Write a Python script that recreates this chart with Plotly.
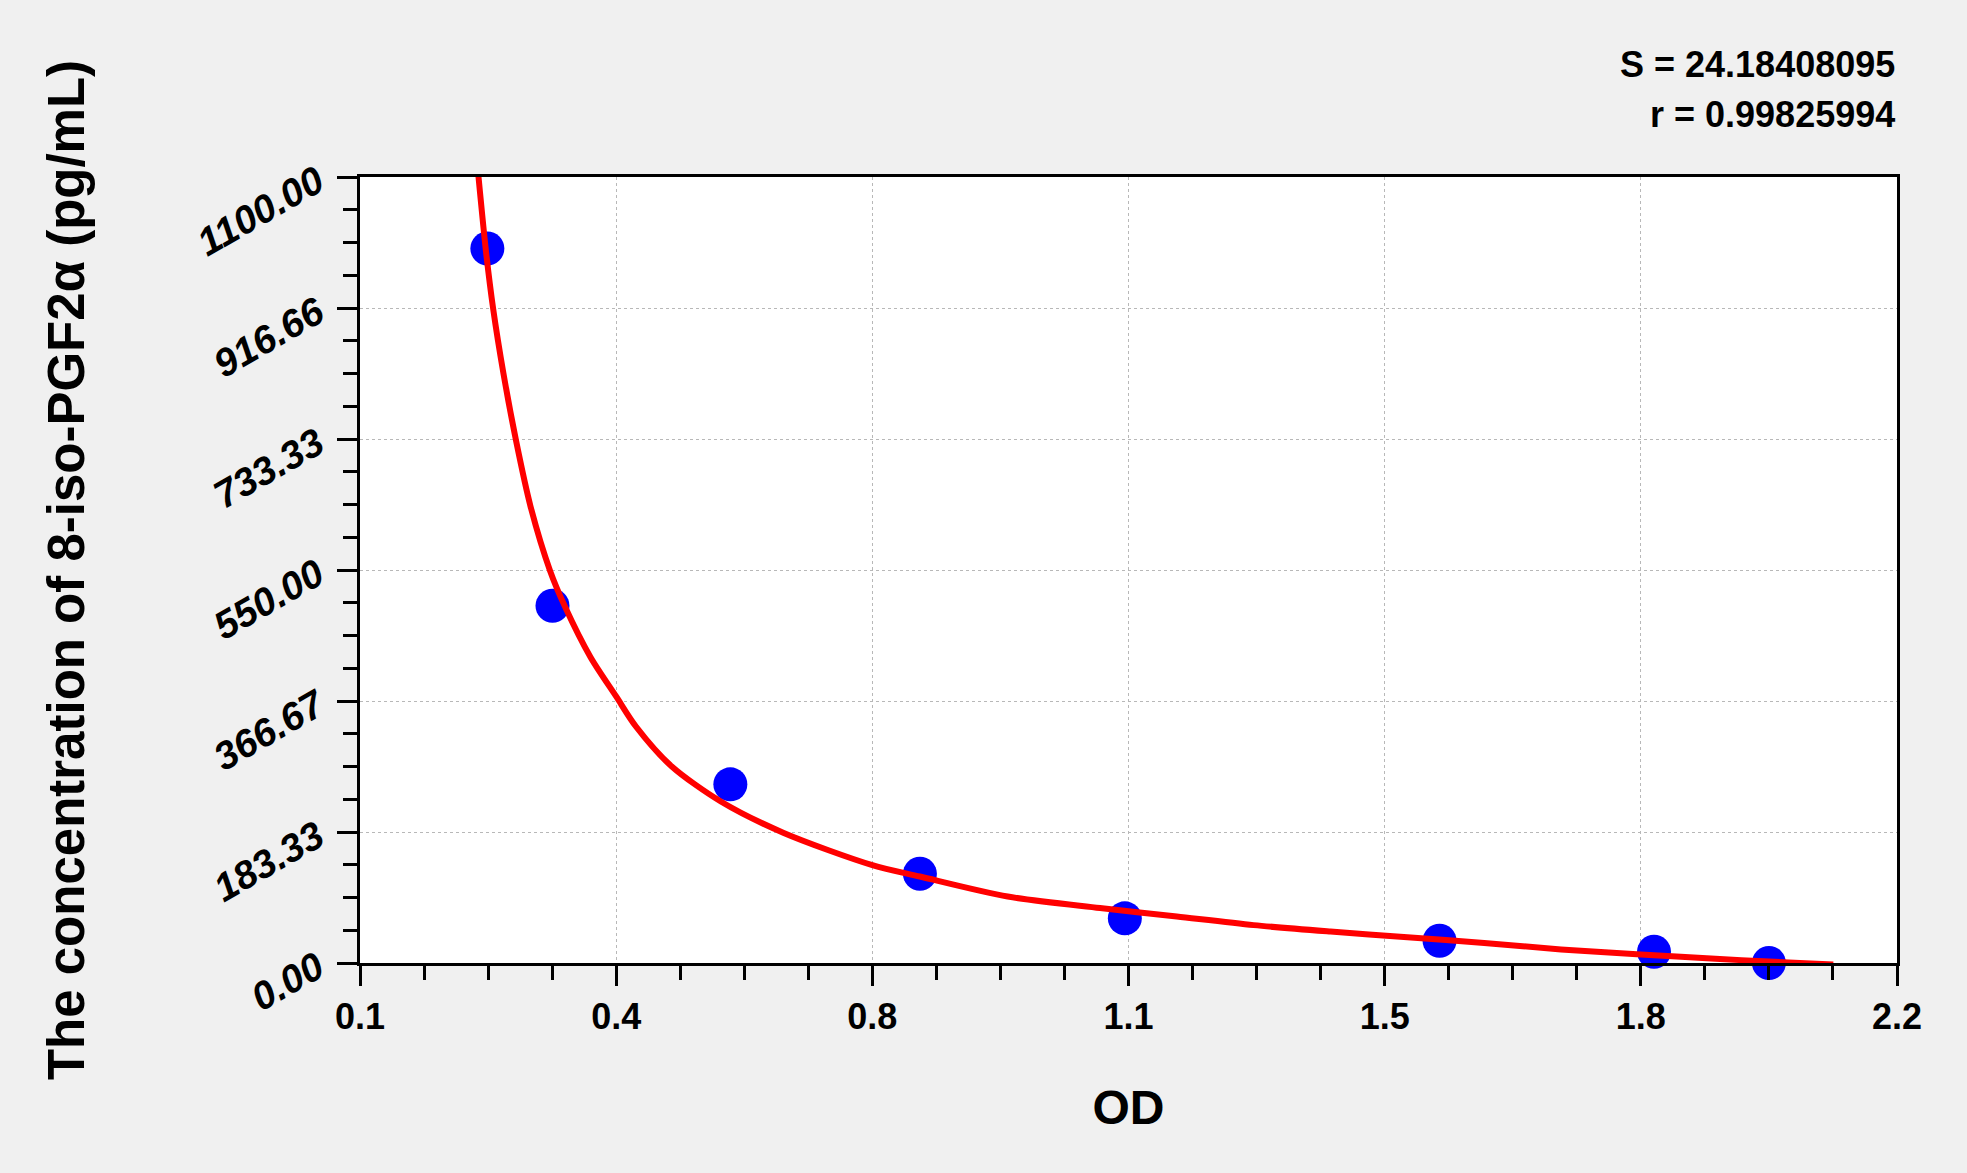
import plotly.graph_objects as go

# standard points (OD vs concentration)
od_points = [0.274, 0.363, 0.606, 0.865, 1.145, 1.575, 1.868, 2.025]
conc_points = [1000, 500, 250, 125, 62.5, 31.25, 15.63, 0]

# fitted curve
od_curve = [0.261, 0.272, 0.282, 0.296, 0.313, 0.333, 0.360, 0.380, 0.415, 0.450,
            0.477, 0.526, 0.593, 0.679, 0.800, 0.865, 0.985, 1.111, 1.216, 1.321,
            1.426, 1.531, 1.636, 1.741, 1.850, 1.952, 2.025, 2.113]
conc_curve = [1110, 997, 915, 825, 732, 639, 548, 499, 428, 373,
              331, 275, 226, 182, 137, 121, 93, 77, 65, 53,
              44, 36, 28, 19, 12, 6, 2, -2]

x_tickvals = [0.1, 0.45, 0.8, 1.15, 1.5, 1.85, 2.2]
x_ticktext = ["0.1", "0.4", "0.8", "1.1", "1.5", "1.8", "2.2"]
y_tickvals = [0, 1100 / 6, 2200 / 6, 550, 4400 / 6, 5500 / 6, 1100]
y_ticktext = ["0.00", "183.33", "366.67", "550.00", "733.33", "916.66", "1100.00"]

s_value = "24.18408095"
r_value = "0.99825994"

FONT = "Liberation Sans, Arial, sans-serif"

fig = go.Figure()

fig.add_trace(go.Scatter(
    x=od_points, y=conc_points, mode="markers",
    marker=dict(color="#0000ff", size=34, line=dict(width=0)),
    cliponaxis=False, showlegend=False
))

# red line is drawn over the points
fig.add_trace(go.Scatter(
    x=od_curve, y=conc_curve, mode="lines",
    line=dict(color="#ff0000", width=6, shape="spline", smoothing=0.8),
    showlegend=False
))

axis_common = dict(
    showline=True, linecolor="black", linewidth=3, mirror=True,
    ticks="outside", ticklen=20, tickwidth=3, tickcolor="black",
    showgrid=True, gridcolor="#b8b8b8", gridwidth=1, griddash="dot",
    zeroline=False,
)

fig.update_xaxes(
    range=[0.1, 2.2],
    tickmode="array", tickvals=x_tickvals,
    ticktext=[f"<b>{t}</b>" for t in x_ticktext],
    tickfont=dict(family=FONT, size=36, color="black"),
    minor=dict(ticks="outside", ticklen=14, tickwidth=3, tickcolor="black",
               tick0=0.1, dtick=0.0875, showgrid=False),
    title=dict(text="<b>OD</b>", font=dict(family=FONT, size=48, color="black"),
               standoff=55),
    **axis_common
)

fig.update_yaxes(
    range=[0, 1100],
    tickmode="array", tickvals=y_tickvals,
    ticktext=[f"<b><i>{t}</i></b>" for t in y_ticktext],
    tickangle=-30,
    ticklabelstandoff=12,
    tickfont=dict(family=FONT, size=39, color="black"),
    minor=dict(ticks="outside", ticklen=14, tickwidth=3, tickcolor="black",
               tick0=0, dtick=1100 / 24, showgrid=False),
    title=dict(text="<b>The concentration of 8-iso-PGF2α (pg/mL)</b>",
               font=dict(family=FONT, size=51, color="black"), standoff=90),
    **axis_common
)

fig.add_annotation(
    xref="paper", yref="paper", x=1.0, y=1.0, yshift=113,
    xanchor="right", yanchor="middle", showarrow=False,
    text=f"<b>S = {s_value}</b>", font=dict(family=FONT, size=36, color="black")
)
fig.add_annotation(
    xref="paper", yref="paper", x=1.0, y=1.0, yshift=63,
    xanchor="right", yanchor="middle", showarrow=False,
    text=f"<b>r = {r_value}</b>", font=dict(family=FONT, size=36, color="black")
)

fig.update_layout(
    width=1967, height=1173,
    margin=dict(l=360, r=70, t=177, b=210),
    paper_bgcolor="#f0f0f0", plot_bgcolor="white",
)

fig.write_html(
    "out.html",
    config={"displayModeBar": False},
    post_script="document.body.style.margin='0px';document.body.style.background='#f0f0f0';"
)
